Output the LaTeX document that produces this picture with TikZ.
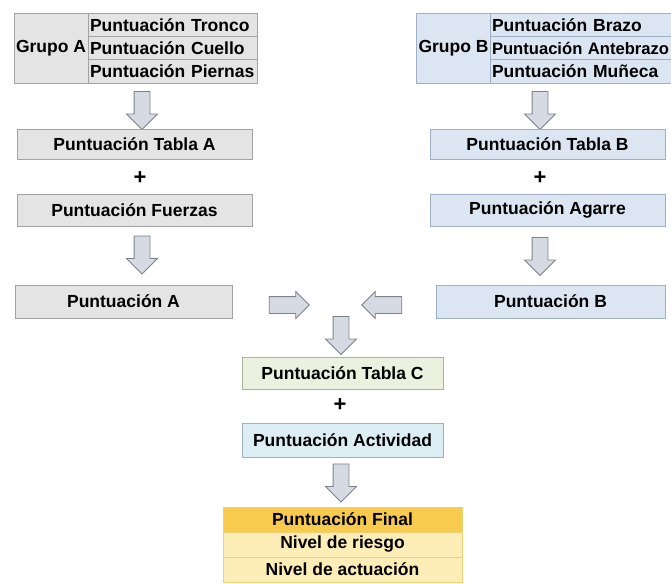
\documentclass[tikz,border=0pt]{standalone}
\usepackage{fontspec}
\setmainfont{Liberation Sans}
\usetikzlibrary{shapes.arrows}

\definecolor{greyfill}{HTML}{E4E4E4}
\definecolor{greyline}{HTML}{A2A2A2}
\definecolor{bluefill}{HTML}{DCE6F2}
\definecolor{blueline}{HTML}{9FB0C6}
\definecolor{greenfill}{HTML}{EBF1DE}
\definecolor{greenline}{HTML}{A8B598}
\definecolor{cyanfill}{HTML}{DCEEF4}
\definecolor{cyanline}{HTML}{9DB3C0}
\definecolor{finalfill}{HTML}{F8CA4E}
\definecolor{rowfill}{HTML}{FDEDB7}
\definecolor{finalline}{HTML}{F1CF7A}
\definecolor{arrowfill}{HTML}{D6DAE3}
\definecolor{arrowline}{HTML}{7C818C}

\tikzset{
  boxfont/.style={font=\bfseries\fontsize{17.5}{19}\selectfont},
  cellA/.style={draw=greyline, fill=greyfill, inner sep=2pt, boxfont},
  cellB/.style={draw=blueline, fill=bluefill, inner sep=2pt, boxfont},
  rowA/.style={cellA, minimum width=169pt, minimum height=23.3pt, text width=165pt, align=left},
  rowB/.style={cellB, minimum width=181pt, minimum height=23.3pt, text width=177pt, align=left},
  finalrow/.style={draw=finalline, fill=rowfill, inner sep=2pt, boxfont, minimum width=239pt, minimum height=25pt},
  plus/.style={font=\bfseries\fontsize{22}{22}\selectfont},
  downarrow/.style={single arrow, rotate=-90, draw=arrowline, fill=arrowfill, line width=0.8pt,
    inner xsep=0pt, inner ysep=7.5pt, minimum height=38pt, single arrow head extend=7.5pt},
  sidearrow/.style={single arrow, draw=arrowline, fill=arrowfill, line width=0.8pt,
    inner xsep=0pt, inner ysep=8pt, minimum height=40pt, single arrow head extend=5pt}
}

\begin{document}
\begin{tikzpicture}[x=1pt, y=-1pt]
  \useasboundingbox (0,0) rectangle (671,583);

  % Grupo A
  \node[cellA, minimum width=74pt, minimum height=70pt] (grupoA) at (51,48) {Grupo A};
  \node[rowA] (tronco) at (172.5,24.7) {Puntuación Tronco};
  \node[rowA] (cuello) at (172.5,48) {Puntuación Cuello};
  \node[rowA] (piernas) at (172.5,71.3) {Puntuación Piernas};

  % Grupo B
  \node[cellB, minimum width=73pt, minimum height=70pt] (grupoB) at (453.5,48) {Grupo B};
  \node[rowB] (brazo) at (580.5,24.7) {Puntuación Brazo};
  \node[rowB, font=\bfseries\fontsize{16.6}{19}\selectfont, inner xsep=1pt] (antebrazo) at (580.5,48) {\mbox{Puntuación Antebrazo}};
  \node[rowB] (muneca) at (580.5,71.3) {Puntuación Muñeca};

  % Left column
  \node[downarrow] (flechaA1) at (142,106.5) {};
  \node[cellA, minimum width=235pt, minimum height=30pt] (tablaA) at (134.5,144) {Puntuación Tabla A};
  \node[plus] (plusA) at (140,178) {+};
  \node[cellA, minimum width=235pt, minimum height=32pt] (fuerzas) at (134.5,210) {Puntuación Fuerzas};
  \node[downarrow] (flechaA2) at (142,251) {};
  \node[cellA, minimum width=217pt, minimum height=33pt] (puntA) at (123.5,301.5) {Puntuación A};

  % Right column
  \node[downarrow] (flechaB1) at (540,106.5) {};
  \node[cellB, minimum width=235pt, minimum height=30pt] (tablaB) at (547.5,144) {Puntuación Tabla B};
  \node[plus] (plusB) at (540,178) {+};
  \node[cellB, minimum width=235pt, minimum height=32pt] (agarre) at (547.5,210) {Puntuación Agarre};
  \node[downarrow] (flechaB2) at (540,252.5) {};
  \node[cellB, minimum width=229pt, minimum height=33pt] (puntB) at (550.5,301.5) {Puntuación B};

  % Side arrows
  \node[sidearrow] (flechaA3) at (285,305) {};
  \node[sidearrow, rotate=180] (flechaB3) at (386,305) {};

  % Centre column
  \node[downarrow] (flechaC1) at (341,331.5) {};
  \node[draw=greenline, fill=greenfill, boxfont, minimum width=201pt, minimum height=32pt] (tablaC) at (342.5,373) {Puntuación Tabla C};
  \node[plus] (plusC) at (340,405) {+};
  \node[draw=cyanline, fill=cyanfill, boxfont, minimum width=201pt, minimum height=34pt] (actividad) at (342.5,440) {Puntuación Actividad};
  \node[downarrow] (flechaC2) at (341,479) {};

  % Final
  \node[finalrow, fill=finalfill] (final) at (342.5,519.5) {Puntuación Final};
  \node[finalrow] (riesgo) at (342.5,544.5) {Nivel de riesgo};
  \node[finalrow] (actuacion) at (342.5,569.5) {Nivel de actuación};

\end{tikzpicture}
\end{document}
